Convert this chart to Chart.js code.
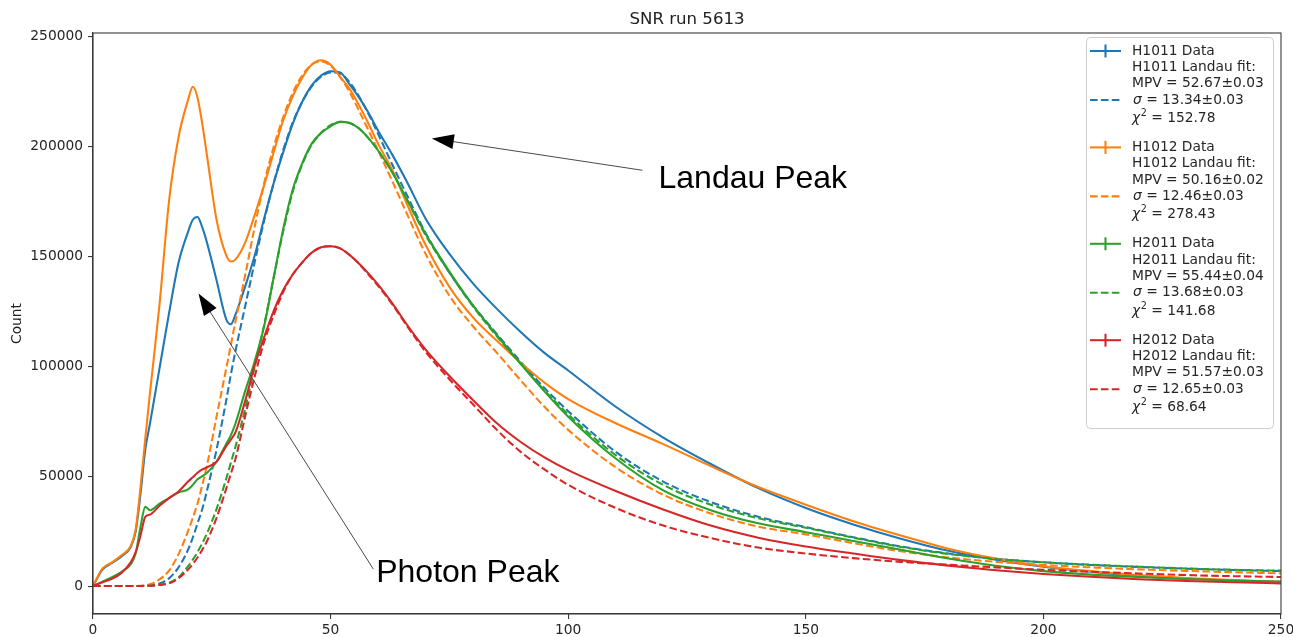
<!DOCTYPE html>
<html>
<head>
<meta charset="utf-8">
<script src="https://cdn.jsdelivr.net/npm/chart.js@4/dist/chart.umd.min.js"></script>
<style>
html,body{margin:0;padding:0;background:#ffffff;overflow:hidden;}
#wrap{width:1293px;height:637px;position:relative;overflow:hidden;}
</style>
</head>
<body>
<div id="wrap"><canvas id="c" width="1320" height="637"></canvas></div>
<script>
// ---------------- data ----------------
const xBins = [0,2,4,6,8,9,10,11,12,14,16,18,20,21,22,23,24,26,28,29,30,32,34,36,38,40,42,44,46,48,50,52,54,56,58,60,63,66,70,75,80,85,90,95,100,110,120,130,140,150,160,170,180,190,200,210,220,230,240,250];

const h1011Data = [0,7500,10500,13500,18000,25000,42000,62000,74000,99000,124000,147000,161000,166500,167800,163000,156000,139000,121500,119000,123500,136000,150000,167000,183000,197000,210000,220000,227500,232000,234000,233500,228000,222000,215000,207000,196000,184000,167000,151000,137500,126000,115500,106000,98000,81500,67500,55500,44500,35500,28000,21500,16000,12000,8800,6500,4500,3300,2500,1900];
const h1011Fit  = [0,0,0,0,0,0,50,150,350,1200,3500,8500,16500,22000,28500,35000,43500,62000,84000,96000,107000,127000,147000,166000,183000,198000,210500,220000,227000,231500,233500,233000,229000,222500,214500,205500,191500,178000,160500,142500,127500,114500,102000,90000,79500,61000,47500,38200,31500,26800,22200,18000,14800,12400,10800,9600,8700,7900,7300,6800];

const h1012Data = [0,8000,10800,14000,18500,26000,45000,67000,88000,128000,175000,204000,221000,227000,222000,210000,195500,166500,150500,147500,148500,156000,168500,182000,197000,211500,222500,231000,237000,239000,237000,231500,226000,218500,210000,201000,189000,174000,155000,136000,122000,111500,101500,92500,85000,74000,64500,54500,45000,37000,29500,23000,17000,12500,9000,6800,5000,3700,2700,2000];
const h1012Fit  = [0,0,0,0,0,50,150,350,800,3000,7000,14500,25000,31000,37500,46000,55000,77000,98500,109500,120500,141000,163000,183000,199500,213000,224000,232000,237000,238500,236500,231500,224500,216000,207000,198000,184000,169500,151000,132000,118000,106000,93500,81500,71000,54000,41500,33000,27000,23500,19500,15800,13000,11000,9600,8500,7600,6900,6300,5800];

const h2011Data = [0,2000,4000,6500,10000,15000,27000,36000,34500,37500,40000,42500,44000,46000,48500,50000,51500,56500,64500,68500,74000,88500,102000,118000,140000,162000,180000,192000,201000,206000,209000,211000,210500,208000,203500,198000,188000,176000,160000,143000,127500,114000,101000,88500,77000,58000,43500,34500,28500,24500,20500,16500,12500,9200,6800,5200,4100,3200,2500,2000];
const h2011Fit  = [0,0,0,0,0,0,30,80,180,600,1500,4000,9000,12000,15500,19500,24000,35000,48500,56000,63500,80500,99500,118500,140000,161000,179000,191500,200500,206000,209500,211000,210500,208000,203500,198000,188000,176000,159500,142500,127000,113500,101000,89000,78000,59500,46000,37000,30800,26500,22000,17800,14600,12300,10800,9700,8800,8000,7400,7000];

const h2012Data = [0,1700,3300,6000,11000,15500,23000,31500,32500,36500,40000,43000,47500,49500,51500,53000,54000,56500,63500,66500,70000,84000,100000,113000,125000,134500,141500,147000,151500,154000,154500,153500,150500,146500,142000,137000,128500,119000,107500,95500,84500,74000,65500,58500,52700,43200,34800,27500,22000,18000,14800,11800,9300,7200,5500,4200,3100,2300,1700,1200];
const h2012Fit  = [0,0,0,0,0,0,20,60,150,500,1200,3500,7500,10000,13000,16500,20500,31000,44000,51000,58000,77000,95000,111000,123000,133500,141500,147000,151500,154000,154500,153500,150500,146500,141500,136500,128000,118500,106500,94000,82500,71000,61000,53000,46000,35500,27500,21800,17500,14800,12700,11000,9700,8500,7400,6500,5700,5000,4500,4100];

const detectorNames = ['H1011','H1012','H2011','H2012'];
const mpvText   = ['52.67\u00b10.03','50.16\u00b10.02','55.44\u00b10.04','51.57\u00b10.03'];
const sigmaText = ['13.34\u00b10.03','12.46\u00b10.03','13.68\u00b10.03','12.65\u00b10.03'];
const chi2Text  = ['152.78','278.43','141.68','68.64'];

const xTickValues = [0,50,100,150,200,250];
const yTickValues = [0,50000,100000,150000,200000,250000];

const chartTitle = 'SNR run 5613';
const yAxisTitle = 'Count';

// annotations in data coordinates
const annotations = [
  {text:'Landau Peak', textX:119.0, textY:181000, tailX:115.6, tailY:189000, tipX:71.3, tipY:203500},
  {text:'Photon Peak', textX:59.6,  textY:1800,   tailX:59.0,  tailY:7700,   tipX:22.2, tipY:133000}
];

// ---------------- styling ----------------
const colors = ['#1f77b4','#ff7f0e','#2ca02c','#d62728'];
const LW = 2.07;
const DASH = [7.6, 3.3];
const FONT = '"DejaVu Sans", sans-serif';
const BASE = 13.8;

const dataSeries = [h1011Data, h1012Data, h2011Data, h2012Data];
const fitSeries  = [h1011Fit,  h1012Fit,  h2011Fit,  h2012Fit];

const datasets = [];
let k = 0;
for (let g = 0; g < 4; g++) {
  datasets.push({
    label: detectorNames[g] + ' Data',
    data: xBins.map((x, i) => ({x: x, y: dataSeries[g][i]})),
    borderColor: colors[g], borderWidth: LW, pointRadius: 0,
    cubicInterpolationMode: 'monotone', fill: false, order: 7 - k
  });
  k++;
  datasets.push({
    label: detectorNames[g] + ' Landau fit',
    data: xBins.map((x, i) => ({x: x, y: fitSeries[g][i]})),
    borderColor: colors[g], borderWidth: LW, borderDash: DASH, pointRadius: 0,
    cubicInterpolationMode: 'monotone', fill: false, order: 7 - k
  });
  k++;
}

function drawArrowHead(ctx, fx, fy, tx, ty, len, halfW) {
  const a = Math.atan2(ty - fy, tx - fx);
  const bx = tx - len * Math.cos(a), by = ty - len * Math.sin(a);
  const nx = -Math.sin(a), ny = Math.cos(a);
  ctx.beginPath();
  ctx.moveTo(tx, ty);
  ctx.lineTo(bx + nx * halfW, by + ny * halfW);
  ctx.lineTo(bx - nx * halfW, by - ny * halfW);
  ctx.closePath();
  ctx.fill();
}

const overlay = {
  id: 'overlay',
  afterDraw(chart) {
    const ctx = chart.ctx, ca = chart.chartArea;
    const xs = chart.scales.x, ys = chart.scales.y;
    ctx.save();
    // axes frame
    ctx.setLineDash([]);
    ctx.strokeStyle = '#3a3a3a'; ctx.lineWidth = 1.1;
    ctx.strokeRect(ca.left, ca.top, ca.right - ca.left, ca.bottom - ca.top);

    // title
    ctx.fillStyle = '#222';
    ctx.font = '16.6px ' + FONT;
    ctx.textAlign = 'center'; ctx.textBaseline = 'alphabetic';
    ctx.fillText(chartTitle, (ca.left + ca.right) / 2, ca.top - 9);

    // y axis title
    ctx.save();
    ctx.translate(17, (ca.top + ca.bottom) / 2);
    ctx.rotate(-Math.PI / 2);
    ctx.font = BASE + 'px ' + FONT;
    ctx.textAlign = 'center'; ctx.textBaseline = 'middle';
    ctx.fillText(yAxisTitle, 0, 0);
    ctx.restore();

    // annotations
    for (const an of annotations) {
      const tx = xs.getPixelForValue(an.tipX), ty = ys.getPixelForValue(an.tipY);
      const fx = xs.getPixelForValue(an.tailX), fy = ys.getPixelForValue(an.tailY);
      ctx.strokeStyle = '#4a4a4a'; ctx.lineWidth = 1;
      const a = Math.atan2(ty - fy, tx - fx);
      ctx.beginPath();
      ctx.moveTo(fx, fy);
      ctx.lineTo(tx - 15 * Math.cos(a), ty - 15 * Math.sin(a));
      ctx.stroke();
      ctx.fillStyle = '#000';
      drawArrowHead(ctx, fx, fy, tx, ty, 22, 7.5);
      ctx.font = '32px "Liberation Sans", Arial, sans-serif';
      ctx.textAlign = 'left'; ctx.textBaseline = 'alphabetic';
      ctx.fillText(an.text, xs.getPixelForValue(an.textX), ys.getPixelForValue(an.textY));
    }

    // legend
    const lx = 1086, ly = 37, lw = 187, lh = 391;
    ctx.beginPath();
    if (ctx.roundRect) ctx.roundRect(lx + 0.5, ly + 0.5, lw, lh, 4); else ctx.rect(lx + 0.5, ly + 0.5, lw, lh);
    ctx.fillStyle = 'rgba(255,255,255,0.85)';
    ctx.fill();
    ctx.strokeStyle = '#cccccc'; ctx.lineWidth = 1;
    ctx.stroke();

    const hx0 = 1090, hx1 = 1121, tx0 = 1132;
    for (let g = 0; g < 4; g++) {
      const y0 = 51 + g * 96.4;
      const c = colors[g];
      // data handle (errorbar style)
      ctx.setLineDash([]);
      ctx.strokeStyle = c; ctx.lineWidth = LW;
      ctx.beginPath(); ctx.moveTo(hx0, y0); ctx.lineTo(hx1, y0); ctx.stroke();
      ctx.beginPath(); ctx.moveTo((hx0 + hx1) / 2, y0 - 6.5); ctx.lineTo((hx0 + hx1) / 2, y0 + 6.5); ctx.stroke();
      // fit handle
      const yf = y0 + 49;
      ctx.setLineDash(DASH);
      ctx.beginPath(); ctx.moveTo(hx0, yf); ctx.lineTo(hx1, yf); ctx.stroke();
      ctx.setLineDash([]);

      ctx.fillStyle = '#262626';
      ctx.textAlign = 'left'; ctx.textBaseline = 'middle';
      ctx.font = BASE + 'px ' + FONT;
      ctx.fillText(detectorNames[g] + ' Data', tx0, y0);
      ctx.fillText(detectorNames[g] + ' Landau fit:', tx0, y0 + 16.3);
      ctx.fillText('MPV = ' + mpvText[g], tx0, y0 + 32.6);
      // sigma line
      ctx.font = 'italic ' + BASE + 'px ' + FONT;
      ctx.fillText('\u03c3', tx0 + 1, yf);
      let w = ctx.measureText('\u03c3').width + 1;
      ctx.font = BASE + 'px ' + FONT;
      ctx.fillText(' = ' + sigmaText[g], tx0 + w, yf);
      // chi2 line
      const yc = y0 + 67.3;
      ctx.font = 'italic ' + BASE + 'px ' + FONT;
      ctx.fillText('\u03c7', tx0, yc);
      w = ctx.measureText('\u03c7').width;
      ctx.font = (BASE * 0.7) + 'px ' + FONT;
      ctx.fillText('2', tx0 + w + 0.5, yc - 5);
      w += ctx.measureText('2').width + 0.5;
      ctx.font = BASE + 'px ' + FONT;
      ctx.fillText(' = ' + chi2Text[g], tx0 + w, yc);
    }
    ctx.restore();
  }
};

new Chart(document.getElementById('c'), {
  type: 'line',
  data: { datasets: datasets },
  options: {
    responsive: false,
    animation: false,
    devicePixelRatio: 1,
    layout: { padding: { left: 0, right: 39, top: 33, bottom: 0 } },
    plugins: { legend: { display: false }, title: { display: false }, tooltip: { enabled: false } },
    elements: { line: { borderCapStyle: 'butt', borderJoinStyle: 'round' } },
    scales: {
      x: {
        type: 'linear', min: 0, max: 250,
        afterBuildTicks: (s) => { s.ticks = xTickValues.map(v => ({value: v})); },
        afterFit: (s) => { s.height = 23; },
        grid: { drawOnChartArea: false, drawTicks: true, tickLength: 5, color: '#3a3a3a', lineWidth: 1.1 },
        border: { display: true, color: '#3a3a3a', width: 1.1 },
        ticks: { color: '#262626', font: { family: 'DejaVu Sans', size: BASE }, padding: 3, maxRotation: 0, autoSkip: false,
                 callback: (v) => String(v) }
      },
      y: {
        type: 'linear', min: -12700, max: 251400,
        afterBuildTicks: (s) => { s.ticks = yTickValues.map(v => ({value: v})); },
        afterFit: (s) => { s.width = 93; },
        grid: { drawOnChartArea: false, drawTicks: true, tickLength: 5, color: '#3a3a3a', lineWidth: 1.1 },
        border: { display: true, color: '#3a3a3a', width: 1.1 },
        ticks: { color: '#262626', font: { family: 'DejaVu Sans', size: BASE }, padding: 5, autoSkip: false,
                 callback: (v) => String(v) }
      }
    }
  },
  plugins: [overlay]
});
</script>
</body>
</html>
